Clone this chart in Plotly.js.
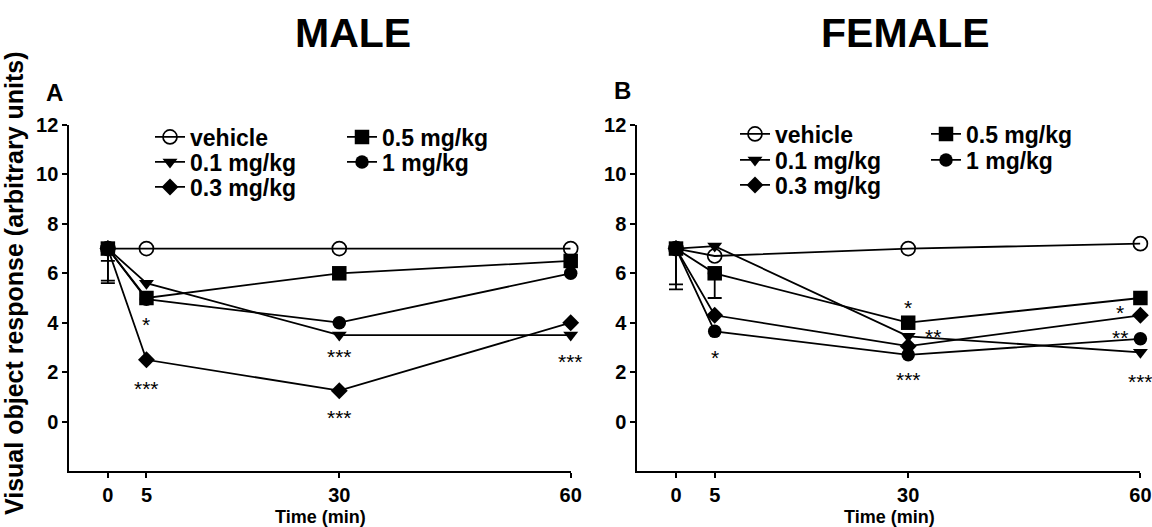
<!DOCTYPE html>
<html><head><meta charset="utf-8">
<script src="https://cdn.plot.ly/plotly-3.0.1.min.js"></script>
<style>html,body{margin:0;padding:0;background:#fff}#chart{width:1152px;height:527px}</style>
</head><body><div id="chart"></div>
<script>
// ---------- data ----------
const times = [0, 5, 30, 60];
const yTicks = [0, 2, 4, 6, 8, 10, 12];
const seriesNames = ['vehicle', '0.1 mg/kg', '0.3 mg/kg', '0.5 mg/kg', '1 mg/kg'];

const maleVehicle = [7.0, 7.0, 7.0, 7.0];
const male01 = [7.0, 5.6, 3.5, 3.5];
const male03 = [7.0, 2.5, 1.25, 4.0];
const male05 = [7.0, 5.0, 6.0, 6.5];
const male1 = [7.0, 4.95, 4.0, 6.0];

const femaleVehicle = [7.0, 6.7, 7.0, 7.2];
const female01 = [7.0, 7.1, 3.45, 2.8];
const female03 = [7.0, 4.3, 3.05, 4.3];
const female05 = [7.0, 6.0, 4.0, 5.0];
const female1 = [7.0, 3.65, 2.7, 3.35];

// lower error bars (NaN = not drawn)
const maleErrVehicle = [NaN, NaN, NaN, NaN];
const maleErr01 = [0.5, NaN, NaN, NaN];
const maleErr03 = [1.3, NaN, NaN, NaN];
const maleErr05 = [NaN, NaN, NaN, NaN];
const maleErr1 = [1.4, NaN, NaN, NaN];

const femaleErrVehicle = [NaN, NaN, NaN, NaN];
const femaleErr01 = [1.45, NaN, NaN, NaN];
const femaleErr03 = [NaN, NaN, NaN, NaN];
const femaleErr05 = [NaN, 1.0, NaN, NaN];
const femaleErr1 = [1.65, NaN, NaN, NaN];

// significance marks
const maleSigX = [5, 5, 30, 30, 60];
const maleSigY = [4.12, 1.56, 2.84, 0.38, 2.63];
const maleSigText = ['*', '***', '***', '***', '***'];
const femaleSigX = [5, 30, 33.2, 30, 57.4, 57.4, 60];
const femaleSigY = [2.79, 4.81, 3.63, 1.92, 4.62, 3.62, 1.84];
const femaleSigText = ['*', '*', '**', '***', '*', '**', '***'];

// ---------- styling ----------
const W = 1152, H = 527;
const FONT = 'Liberation Sans, Arial, sans-serif';
const px = v => v / W, py = v => 1 - v / H;
const symbols = ['circle-open', 'triangle-down', 'diamond', 'square', 'circle'];
const markerSizes = [14, 13, 13, 14.5, 13.5];

const maleSeries = [maleVehicle, male01, male03, male05, male1];
const maleErrs = [maleErrVehicle, maleErr01, maleErr03, maleErr05, maleErr1];
const femaleSeries = [femaleVehicle, female01, female03, female05, female1];
const femaleErrs = [femaleErrVehicle, femaleErr01, femaleErr03, femaleErr05, femaleErr1];

// legend slot: [column, row]
const legendSlots = [[0, 0], [0, 1], [0, 2], [1, 0], [1, 1]];
const panels = [
  {xa: 'x', ya: 'y', series: maleSeries, errs: maleErrs, legColX: [165, 357], legRowY: [137, 162, 187], legOffset: 0},
  {xa: 'x2', ya: 'y2', series: femaleSeries, errs: femaleErrs, legColX: [750, 941], legRowY: [134, 160, 185], legOffset: 5}
];

const traces = [];
const layout = {
  width: W, height: H,
  margin: {l: 0, r: 0, t: 0, b: 0},
  paper_bgcolor: 'white', plot_bgcolor: 'white',
  font: {family: FONT, color: 'black'},
  showlegend: true,
  annotations: []
};

panels.forEach(p => {
  p.series.forEach((vals, i) => {
    const legName = 'legend' + ((p.legOffset + i) === 0 ? '' : (p.legOffset + i + 1));
    const errs = p.errs[i];
    traces.push({
      type: 'scatter', mode: 'lines+markers',
      x: times, y: vals, name: seriesNames[i],
      xaxis: p.xa, yaxis: p.ya, legend: legName,
      line: {color: 'black', width: 1.8},
      marker: {symbol: symbols[i], size: markerSizes[i], color: 'black',
               line: {color: 'black', width: i === 0 ? 1.7 : 0}},
      error_y: {type: 'data', symmetric: false, array: errs.map(e => isNaN(e) ? NaN : 0),
                arrayminus: errs, color: 'black', thickness: 1.8, width: 7},
      cliponaxis: false
    });
    const slot = legendSlots[i];
    layout[legName] = {
      x: px(p.legColX[slot[0]] - 15), xanchor: 'left', xref: 'paper',
      y: py(p.legRowY[slot[1]]), yanchor: 'middle', yref: 'paper',
      bgcolor: 'rgba(0,0,0,0)', borderwidth: 0,
      font: {family: FONT, size: 23, weight: 700, color: 'black'}
    };
  });
});

function axisX(domain, anchor) {
  return {domain: domain, range: [-5, 60], anchor: anchor,
    tickmode: 'array', tickvals: times, ticktext: times.map(String),
    ticks: 'outside', ticklen: 5, tickwidth: 2, tickcolor: 'black',
    showline: true, linewidth: 2, linecolor: 'black',
    showgrid: false, zeroline: false, fixedrange: true,
    tickfont: {family: FONT, size: 20, weight: 700, color: 'black'}};
}
function axisY(domain, anchor) {
  return {domain: domain, range: [-2, 12], anchor: anchor,
    tickmode: 'array', tickvals: yTicks, ticktext: yTicks.map(String),
    ticks: 'outside', ticklen: 5, tickwidth: 2, tickcolor: 'black',
    showline: true, linewidth: 2, linecolor: 'black',
    showgrid: false, zeroline: false, fixedrange: true,
    tickfont: {family: FONT, size: 20, weight: 700, color: 'black'}};
}
const yDom = [py(471), py(125)];
layout.xaxis = axisX([px(69.3), px(570.7)], 'y');
layout.yaxis = axisY(yDom, 'x');
layout.xaxis2 = axisX([px(637.3), px(1140.4)], 'y2');
layout.yaxis2 = axisY(yDom, 'x2');

// significance annotations
const ASTER_SHIFT = -5;
function addSig(xs, ys, ts, xr, yr) {
  xs.forEach((x, i) => layout.annotations.push({
    x: x, y: ys[i], xref: xr, yref: yr, text: ts[i], showarrow: false,
    xanchor: 'center', yanchor: 'middle', yshift: ASTER_SHIFT,
    font: {family: FONT, size: 21, color: 'black'}
  }));
}
addSig(maleSigX, maleSigY, maleSigText, 'x', 'y');
addSig(femaleSigX, femaleSigY, femaleSigText, 'x2', 'y2');

// titles and labels
function txt(text, x, y, size, extra) {
  layout.annotations.push(Object.assign({
    text: text, x: px(x), y: py(y), xref: 'paper', yref: 'paper', showarrow: false,
    xanchor: 'center', yanchor: 'middle',
    font: {family: FONT, size: size, weight: 700, color: 'black'}
  }, extra || {}));
}
txt('MALE', 353, 33, 41);
txt('FEMALE', 905, 33, 41);
txt('A', 54, 92, 24);
txt('B', 622, 91, 24);
txt('Visual object response (arbitrary units)', 14, 283, 25, {textangle: -90});
txt('Time (min)', 320, 517, 18);
txt('Time (min)', 889, 517, 18);

Plotly.newPlot('chart', traces, layout, {displayModeBar: false, staticPlot: true});
</script></body></html>
